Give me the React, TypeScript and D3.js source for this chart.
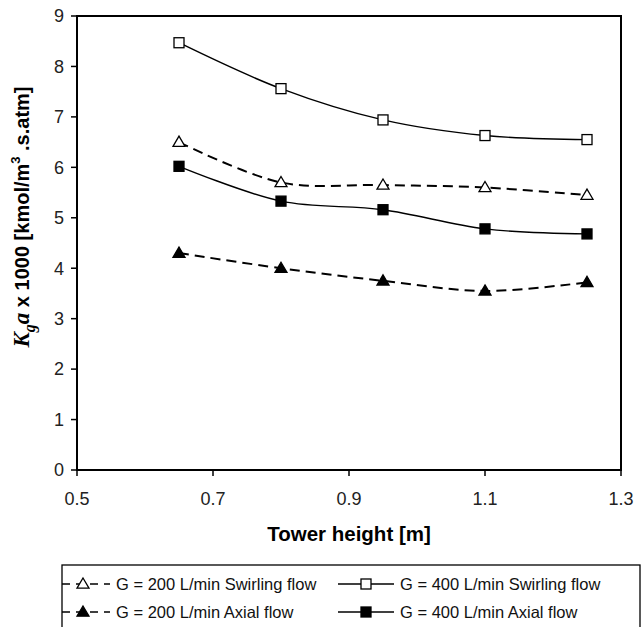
import React, {useEffect, useRef} from 'react';
import * as d3 from 'd3';

// tower height [m]
const heights = [0.65, 0.8, 0.95, 1.1, 1.25];

// Kga x 1000
const swirl200 = [6.5, 5.7, 5.65, 5.6, 5.45];
const swirl400 = [8.47, 7.56, 6.94, 6.63, 6.55];
const axial200 = [4.3, 4.0, 3.75, 3.55, 3.72];
const axial400 = [6.02, 5.33, 5.16, 4.78, 4.68];

const xTicks = [0.5, 0.7, 0.9, 1.1, 1.3];
const yTicks = [0, 1, 2, 3, 4, 5, 6, 7, 8, 9];

const series = [
  {name: 'G = 200 L/min Swirling flow', values: swirl200, marker: 'triangle', filled: false, dashed: true},
  {name: 'G = 400 L/min Swirling flow', values: swirl400, marker: 'square', filled: false, dashed: false},
  {name: 'G = 200 L/min Axial flow', values: axial200, marker: 'triangle', filled: true, dashed: true},
  {name: 'G = 400 L/min Axial flow', values: axial400, marker: 'square', filled: true, dashed: false},
];

const FONT = '"Liberation Sans", Arial, sans-serif';

export default function App() {
  const svgRef = useRef<SVGSVGElement>(null);

  useEffect(() => {
    const svg = d3.select(svgRef.current);
    svg.selectAll('*').remove();

    const width = 644, height = 627;
    const left = 77, right = 621, top = 16, bottom = 470;

    const x = d3.scaleLinear().domain([0.5, 1.3]).range([left, right]);
    const y = d3.scaleLinear().domain([0, 9]).range([bottom, top]);

    svg.attr('width', width).attr('height', height)
      .style('position', 'absolute').style('left', 0).style('top', 0)
      .attr('font-family', FONT);

    svg.append('rect').attr('width', width).attr('height', height).attr('fill', '#fff');

    // frame
    svg.append('rect')
      .attr('x', left).attr('y', top)
      .attr('width', right - left).attr('height', bottom - top)
      .attr('fill', 'none').attr('stroke', '#000').attr('stroke-width', 2);

    // y axis
    const yAxis = svg.append('g');
    yTicks.forEach(t => {
      yAxis.append('line').attr('x1', left - 6).attr('x2', left)
        .attr('y1', y(t)).attr('y2', y(t)).attr('stroke', '#000').attr('stroke-width', 1.5);
      yAxis.append('text').attr('x', left - 13).attr('y', y(t)).attr('dy', '0.35em')
        .attr('text-anchor', 'end').attr('font-size', 18).attr('fill', '#222').text(t);
    });

    // x axis
    const xAxis = svg.append('g');
    xTicks.forEach(t => {
      xAxis.append('line').attr('x1', x(t)).attr('x2', x(t))
        .attr('y1', bottom).attr('y2', bottom + 6).attr('stroke', '#000').attr('stroke-width', 1.5);
      xAxis.append('text').attr('x', x(t)).attr('y', bottom + 35)
        .attr('text-anchor', 'middle').attr('font-size', 18).attr('fill', '#222').text(d3.format('.1f')(t));
    });

    svg.append('text').attr('x', (left + right) / 2).attr('y', 541)
      .attr('text-anchor', 'middle').attr('font-size', 20.5).attr('font-weight', 'bold')
      .text('Tower height [m]');

    // y title
    const yt = svg.append('text')
      .attr('transform', `translate(29,217) rotate(-90)`)
      .attr('text-anchor', 'middle').attr('font-size', 20).attr('font-weight', 'bold');
    const serif = '"Liberation Serif", "Times New Roman", serif';
    yt.append('tspan').attr('font-family', serif).attr('font-style', 'italic').attr('font-size', 23).text('K');
    yt.append('tspan').attr('font-family', serif).attr('font-style', 'italic').attr('font-size', 16).attr('dy', 6).text('g');
    yt.append('tspan').attr('font-family', serif).attr('font-style', 'italic').attr('font-size', 23).attr('dy', -6).text('a');
    yt.append('tspan').text(' x 1000 [kmol/m');
    yt.append('tspan').attr('font-size', 13).attr('dy', -9).text('3');
    yt.append('tspan').attr('dy', 9).text(' .s.atm]');

    const line = d3.line<number>()
      .x((d, i) => x(heights[i]))
      .y(d => y(d))
      .curve(d3.curveCatmullRom.alpha(0.5));

    const drawMarker = (g: any, cx: number, cy: number, s: any) => {
      if (s.marker === 'square') {
        g.append('rect').attr('x', cx - 5).attr('y', cy - 5).attr('width', 10).attr('height', 10)
          .attr('fill', s.filled ? '#000' : '#fff').attr('stroke', '#000').attr('stroke-width', 1.3);
      } else {
        const r = 6;
        g.append('path')
          .attr('d', `M${cx},${cy - r}L${cx + r},${cy + r * 0.7}L${cx - r},${cy + r * 0.7}Z`)
          .attr('fill', s.filled ? '#000' : '#fff').attr('stroke', '#000').attr('stroke-width', 1.3);
      }
    };

    series.forEach(s => {
      svg.append('path').attr('d', line(s.values))
        .attr('fill', 'none').attr('stroke', '#000')
        .attr('stroke-width', s.dashed ? 2 : 1.4)
        .attr('stroke-dasharray', s.dashed ? '10,6' : null);
      const g = svg.append('g');
      s.values.forEach((v, i) => drawMarker(g, x(heights[i]), y(v), s));
    });

    // legend
    const lg = svg.append('g');
    lg.append('rect').attr('x', 62).attr('y', 565).attr('width', 578).attr('height', 80)
      .attr('fill', '#fff').attr('stroke', '#000').attr('stroke-width', 1.3);
    const cols = [60, 338];
    const rows = [584, 612];
    series.forEach((s, i) => {
      const cx = cols[i % 2];
      const cy = rows[Math.floor(i / 2)];
      const x0 = s.dashed ? cx + 2 : cx;
      const x1 = s.dashed ? cx + 50 : cx + 56;
      lg.append('line').attr('x1', x0).attr('x2', x1).attr('y1', cy).attr('y2', cy)
        .attr('stroke', '#000').attr('stroke-width', s.dashed ? 1.6 : 1.3)
        .attr('stroke-dasharray', s.dashed ? '8,6' : null);
      drawMarker(lg, s.dashed ? cx + 23 : (x0 + x1) / 2, cy, s);
      lg.append('text').attr('x', x1 + 6).attr('y', cy).attr('dy', '0.35em')
        .attr('font-size', 16.5).attr('fill', '#111').text(s.name);
    });
  }, []);

  return (
    <div>
      <svg ref={svgRef}></svg>
    </div>
  );
}
